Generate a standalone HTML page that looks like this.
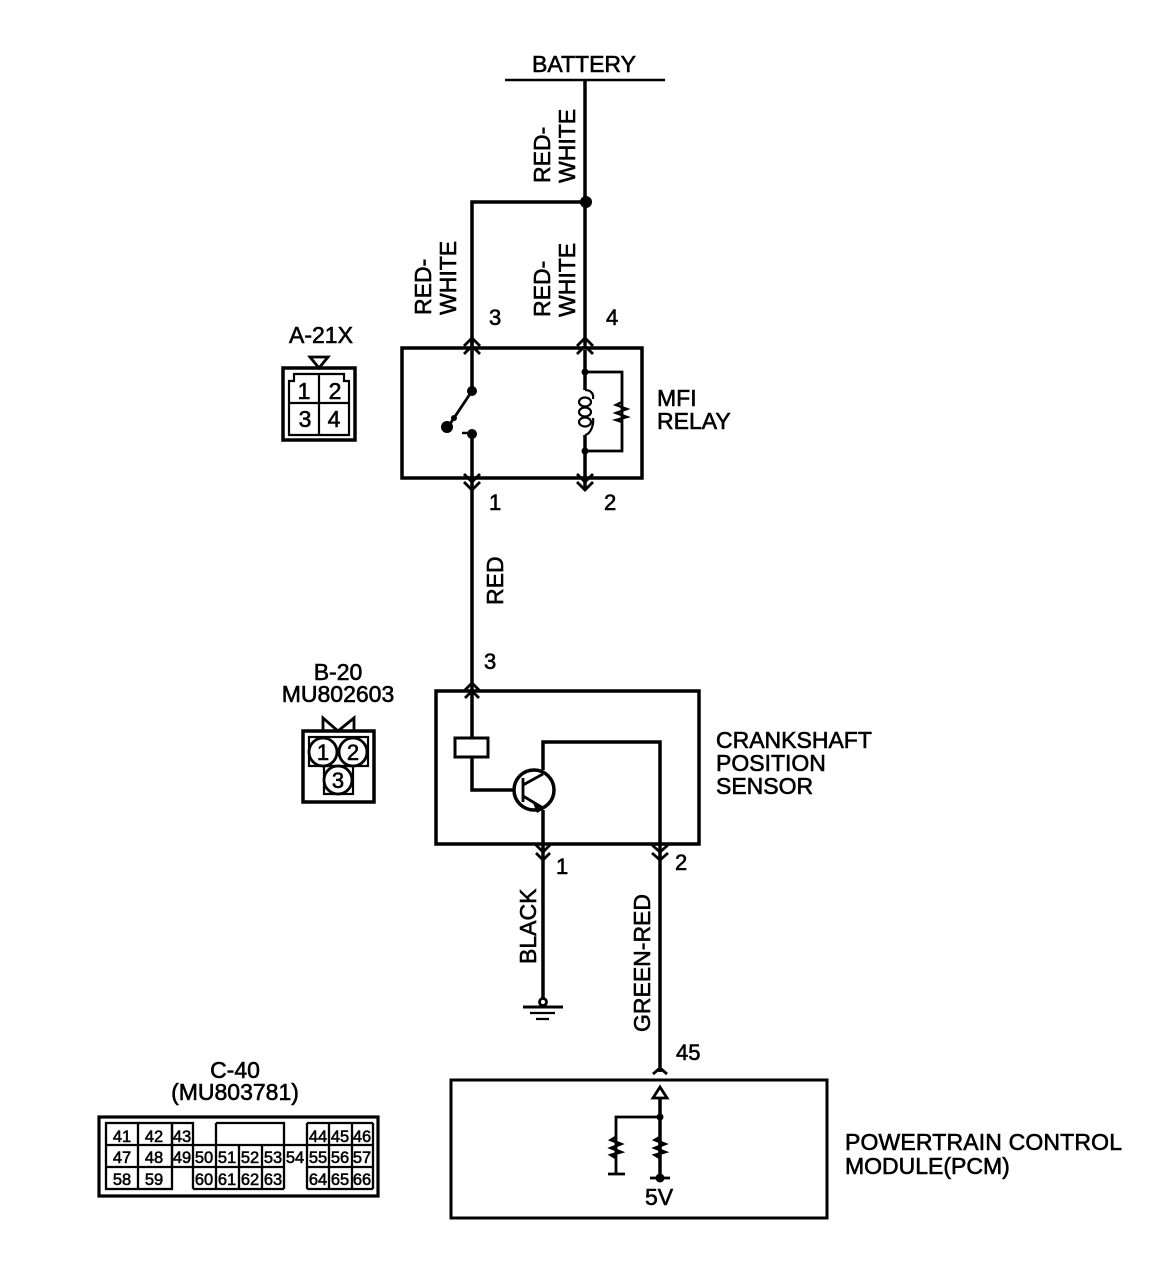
<!DOCTYPE html>
<html><head><meta charset="utf-8"><style>
html,body{margin:0;padding:0;background:#fff}
svg{display:block}
text{font-family:"Liberation Sans",sans-serif;fill:#000;stroke:#000;stroke-width:.6}
.l{font-size:23px}.n{font-size:22px}.s{font-size:16.5px;text-anchor:middle;stroke-width:.55}
.p{font-size:23px;text-anchor:middle}
</style></head><body>
<svg width="1152" height="1268" viewBox="0 0 1152 1268" xmlns="http://www.w3.org/2000/svg">
<g fill="none" stroke="#000" stroke-width="3.5">
<path d="M505 80H665" stroke-width="2.5"/>
<path d="M585 80V345M585 202H472V345"/>
<rect x="402" y="348" width="240" height="130"/>
<path d="M472 338V391M472 434V590M472 590V690M585 350V390M585 435V490"/>
<path d="M464 346l8-8 8 8M464 354l8-8 8 8M577 346l8-8 8 8M577 354l8-8 8 8M464 474l8 8 8-8M464 482l8 8 8-8M577 474l8 8 8-8M577 482l8 8 8-8" stroke-width="2.8"/>
<path d="M450 424L472 391" stroke-width="2.8"/>
<path d="M462 433H472" stroke-width="2.5"/>
<path d="M585 372H622V451H585" stroke-width="2.8"/>
<path d="M585 390c6 0 9 4 8 9M593 418c1 6-2 16-8 17" stroke-width="2.2"/>
<ellipse cx="585" cy="402" rx="6" ry="4.5" stroke-width="2.2"/>
<ellipse cx="585" cy="412" rx="6" ry="4.5" stroke-width="2.2"/>
<ellipse cx="585" cy="422" rx="6" ry="4.5" stroke-width="2.2"/>
<path d="M622 402l-6 3 11 4-11 4 11 4-11 3 6 2" stroke-width="2.4"/>
<rect x="436" y="691" width="263" height="153"/>
<path d="M472 690V737M472 757V790H515M543 770V742H660V1072M543 810V1000"/>
<path d="M465 690l7-7 7 7M465 698l7-7 7 7M536 845l7 7 7-7M536 853l7 7 7-7M652 845l8 7 8-7M652 853l8 7 8-7" stroke-width="2.8"/>
<rect x="455" y="738" width="33" height="19" stroke-width="3"/>
<circle cx="534" cy="790" r="20"/>
<path d="M523 778V802M523 785L543 774M523 796L543 808" stroke-width="2.8"/>
<path d="M523 1007H563" stroke-width="3"/><path d="M530 1013H555M536 1019H549" stroke-width="2.2"/>
<path d="M653 1074l7-6 7 6" stroke-width="2.8"/>
<rect x="451" y="1080" width="376" height="138" stroke-width="3"/>
<path d="M660 1098V1178" stroke-width="3.5"/>
<path d="M660 1087l7 11h-14z" stroke-width="2.8"/>
<path d="M660 1117H616V1174M608 1174H625M650 1178H670" stroke-width="2.8"/>
<path d="M616 1137l-5 3 10 4-10 4 10 4-10 3 5 3M660 1137l-5 3 10 4-10 4 10 4-10 3 5 3" stroke-width="2.8"/>

<rect x="283" y="368" width="72" height="72"/>
<path d="M289 435V381h5v-7h50v7h5v54zM319 374V435M289 403H349" stroke-width="2.2"/>
<path d="M310 357h18l-9 11z" stroke-width="2.8"/>

<rect x="303" y="731" width="71" height="71"/>
<path d="M323 731V718l15 13 16-13V731" stroke-width="2.8"/>
<rect x="309" y="737" width="59" height="29" stroke-width="2.2"/>
<rect x="324" y="766" width="29" height="28" stroke-width="2.2"/>
<circle cx="323" cy="752" r="14" stroke-width="2.8" fill="#fff"/>
<circle cx="353" cy="752" r="14" stroke-width="2.8" fill="#fff"/>
<circle cx="338" cy="780" r="14" stroke-width="2.8" fill="#fff"/>

<rect x="99" y="1117" width="279" height="79" stroke-width="3.2"/>
<g stroke-width="2.3">
<rect x="106" y="1123" width="66" height="66" fill="none"/>
<path d="M138 1123V1189M106 1145H373M106 1167H193M193 1145V1189M172 1123V1167M172 1123H193V1145M216 1123H284V1145M216 1123V1189M239 1145V1189M262 1145V1189M284 1145V1189M193 1189H284M193 1167H284M307 1123V1189M329 1123V1189M352 1123V1189M373 1123V1189M307 1123H373M307 1167H373M307 1189H373"/>
</g>
</g>
<g fill="#000" stroke="none">
<circle cx="586" cy="202" r="6"/>
<circle cx="472" cy="391" r="5"/><circle cx="472" cy="434" r="5"/><circle cx="447" cy="427" r="6"/><circle cx="454" cy="418" r="3"/>
<circle cx="585" cy="372" r="3.5"/><circle cx="585" cy="451" r="3.5"/>
<path d="M533 803l11 6-7 4z"/>
<circle cx="660" cy="1117" r="3.5"/><circle cx="660" cy="1178" r="4.5"/>
</g>
<circle cx="543" cy="1002" r="3.5" fill="#fff" stroke="#000" stroke-width="2.8"/>

<text class="l" x="532" y="72">BATTERY</text>
<text class="l" transform="translate(550,183) rotate(-90)">RED-</text>
<text class="l" transform="translate(575,183) rotate(-90)">WHITE</text>
<text class="l" transform="translate(431,315) rotate(-90)">RED-</text>
<text class="l" transform="translate(456,315) rotate(-90)">WHITE</text>
<text class="l" transform="translate(550,317) rotate(-90)">RED-</text>
<text class="l" transform="translate(575,317) rotate(-90)">WHITE</text>
<text class="l" transform="translate(503,605) rotate(-90)">RED</text>
<text class="l" transform="translate(536,964) rotate(-90)">BLACK</text>
<text class="l" transform="translate(650,1032) rotate(-90)">GREEN-RED</text>

<text class="n" x="489" y="325">3</text><text class="n" x="606" y="325">4</text>
<text class="n" x="489" y="510">1</text><text class="n" x="604" y="510">2</text>
<text class="n" x="484" y="669">3</text>
<text class="n" x="556" y="874">1</text><text class="n" x="675" y="870">2</text>
<text class="n" x="676" y="1060">45</text>
<text class="n" x="645" y="1205" style="font-size:23px">5V</text>

<text class="l" x="289" y="343">A-21X</text>
<text class="l" x="657" y="406">MFI</text><text class="l" x="657" y="429">RELAY</text>
<text class="l" x="338" y="680" text-anchor="middle">B-20</text>
<text class="l" x="338" y="702" text-anchor="middle">MU802603</text>
<text class="l" x="716" y="748">CRANKSHAFT</text>
<text class="l" x="716" y="771">POSITION</text>
<text class="l" x="716" y="794">SENSOR</text>
<text class="l" x="235" y="1078" text-anchor="middle">C-40</text>
<text class="l" x="235" y="1100" text-anchor="middle">(MU803781)</text>
<text class="l" x="845" y="1150" textLength="277">POWERTRAIN CONTROL</text>
<text class="l" x="845" y="1174">MODULE(PCM)</text>

<text class="p" x="304" y="399">1</text><text class="p" x="335" y="399">2</text>
<text class="p" x="305" y="427">3</text><text class="p" x="334" y="427">4</text>
<text class="n" x="323" y="760" text-anchor="middle">1</text>
<text class="n" x="353" y="760" text-anchor="middle">2</text>
<text class="n" x="338" y="788" text-anchor="middle">3</text>

<text class="s" x="122" y="1142">41</text><text class="s" x="154" y="1142">42</text><text class="s" x="182" y="1142">43</text>
<text class="s" x="318" y="1142">44</text><text class="s" x="340" y="1142">45</text><text class="s" x="362" y="1142">46</text>
<text class="s" x="122" y="1163">47</text><text class="s" x="154" y="1163">48</text><text class="s" x="182" y="1163">49</text>
<text class="s" x="204" y="1163">50</text><text class="s" x="227" y="1163">51</text><text class="s" x="250" y="1163">52</text>
<text class="s" x="273" y="1163">53</text><text class="s" x="295" y="1163">54</text><text class="s" x="318" y="1163">55</text>
<text class="s" x="340" y="1163">56</text><text class="s" x="362" y="1163">57</text>
<text class="s" x="122" y="1185">58</text><text class="s" x="154" y="1185">59</text>
<text class="s" x="204" y="1185">60</text><text class="s" x="227" y="1185">61</text><text class="s" x="250" y="1185">62</text>
<text class="s" x="273" y="1185">63</text>
<text class="s" x="318" y="1185">64</text><text class="s" x="340" y="1185">65</text><text class="s" x="362" y="1185">66</text>
</svg>
</body></html>
